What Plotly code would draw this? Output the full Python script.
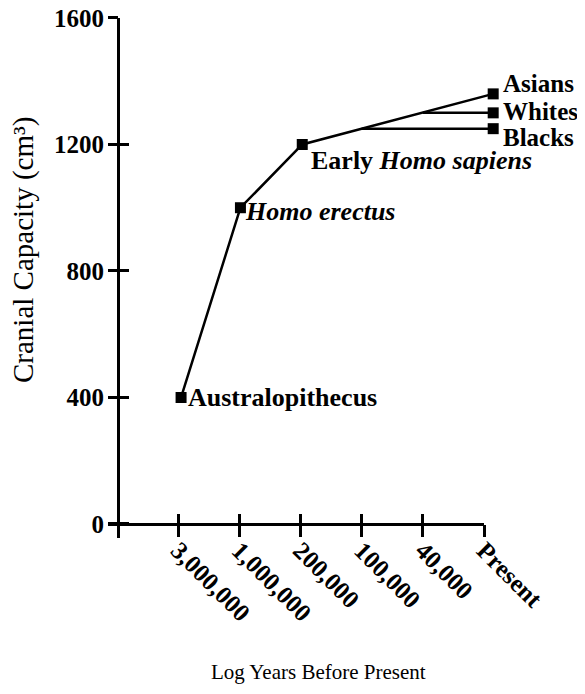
import plotly.graph_objects as go

# categorias do eixo x (anos antes do presente, escala log)
anos_labels = ["3,000,000", "1,000,000", "200,000", "100,000", "40,000", "Present"]
anos_idx = [0, 1, 2, 3, 4, 5]

# linha principal: fósseis até asiáticos
especies = ["Australopithecus", "<i>Homo erectus</i>", "Early <i>Homo sapiens</i>", "Asians"]
especies_x = [0.05, 1.02, 2.03, 5.15]
capacidade = [400, 1000, 1200, 1360]

# ramos horizontais (início no ramo, fim no presente)
brancos_x = [4, 5.15]
brancos_y = [1300, 1300]
negros_x = [3, 5.15]
negros_y = [1250, 1250]

y_ticks = [0, 400, 800, 1200, 1600]

# a página tem 8px de margem no body: a figura começa em (8, 8)
W, H = 577, 686
OFF = 8


def px(x):
    return (x - OFF) / W


def py(y):
    return (H - (y - OFF)) / H


fonte_tick = dict(family="Liberation Serif", size=25, color="black", weight="bold")
fonte_rot = dict(family="Liberation Serif", size=26, color="black", weight="bold")
fonte_pres = dict(family="Liberation Serif", size=25, color="black", weight="bold")

fig = go.Figure()

# eixo x3 invisível, mesma escala do eixo x mas mais largo (para os pontos do presente)
fig.add_trace(go.Scatter(
    x=especies_x, y=capacidade, mode="lines+markers", xaxis="x3", yaxis="y",
    line=dict(color="black", width=2.5),
    marker=dict(symbol="square", size=11, color="black"),
    cliponaxis=False, showlegend=False, hoverinfo="skip"
))
for xs, ys in [(brancos_x, brancos_y), (negros_x, negros_y)]:
    fig.add_trace(go.Scatter(
        x=xs, y=ys, mode="lines", xaxis="x3", yaxis="y",
        line=dict(color="black", width=2.5),
        cliponaxis=False, showlegend=False, hoverinfo="skip"
    ))
fig.add_trace(go.Scatter(
    x=[brancos_x[-1], negros_x[-1]], y=[brancos_y[-1], negros_y[-1]], mode="markers",
    xaxis="x3", yaxis="y", marker=dict(symbol="square", size=11, color="black"),
    cliponaxis=False, showlegend=False, hoverinfo="skip"
))

# traços vazios para os eixos visíveis (principal + ticks para dentro + ticks para fora)
for xa, ya in [("x", "y"), ("x2", "y2"), ("x4", "y4")]:
    fig.add_trace(go.Scatter(x=[None], y=[None], xaxis=xa, yaxis=ya,
                             showlegend=False, hoverinfo="skip"))

px_por_ano = 61.2
x_dom = [px(108), px(484)]
y_dom = [py(538), py(17.5)]
x_range = [-1.144, 5]
x3_range = [-1.144, -1.144 + (W - (108 - OFF)) / px_por_ano]
y_range = [-44.3, 1601.5]

eixo_x = dict(domain=x_dom, range=x_range, anchor="free", position=py(524),
              tickmode="array", tickvals=anos_idx, showgrid=False, zeroline=False,
              tickwidth=3, tickcolor="black", automargin=False, fixedrange=True,
              ticklabeloverflow="allow")
eixo_y = dict(domain=y_dom, range=y_range, anchor="free", position=px(118),
              tickmode="array", tickvals=y_ticks, showgrid=False, zeroline=False,
              tickwidth=3, tickcolor="black", automargin=False, fixedrange=True,
              ticklabeloverflow="allow")

fig.update_layout(
    width=W, height=H, autosize=False,
    margin=dict(l=0, r=0, t=0, b=0, pad=0),
    paper_bgcolor="white", plot_bgcolor="rgba(0,0,0,0)",
    showlegend=False,
    xaxis=dict(eixo_x, ticks="", showline=True, linewidth=3, linecolor="black",
               ticktext=anos_labels, tickangle=45, tickfont=fonte_tick),
    yaxis=dict(eixo_y, ticks="", showline=True, linewidth=3, linecolor="black",
               tickfont=fonte_tick, ticklabelstandoff=8),
    xaxis2=dict(eixo_x, overlaying="x", ticks="inside", ticklen=10,
                showticklabels=False, showline=False),
    yaxis2=dict(eixo_y, overlaying="y", ticks="inside", ticklen=10,
                showticklabels=False, showline=False),
    xaxis4=dict(eixo_x, overlaying="x", ticks="outside", ticklen=12,
                showticklabels=False, showline=False),
    yaxis4=dict(eixo_y, overlaying="y", ticks="outside", ticklen=10,
                showticklabels=False, showline=False),
    xaxis3=dict(domain=[px(108), 1], range=x3_range, anchor="y", visible=False,
                automargin=False, fixedrange=True),
)

# rótulos dos pontos
deslocamentos = [(5, 0), (3, -4), (7, -16)]
for nome, x, y, (dx, dy) in zip(especies[:3], especies_x, capacidade, deslocamentos):
    fig.add_annotation(x=x, y=y, xref="x3", yref="y", text=nome, showarrow=False,
                       xanchor="left", yanchor="middle", xshift=dx, yshift=dy, font=fonte_rot)

# rótulos do presente
fig.add_annotation(x=especies_x[-1], y=capacidade[-1], xref="x3", yref="y", text=especies[-1],
                   showarrow=False, xanchor="left", yanchor="middle", xshift=8, yshift=10,
                   font=fonte_pres)
fig.add_annotation(x=brancos_x[-1], y=brancos_y[-1], xref="x3", yref="y", text="Whites",
                   showarrow=False, xanchor="left", yanchor="middle", xshift=8, yshift=1,
                   font=fonte_pres)
fig.add_annotation(x=negros_x[-1], y=negros_y[-1], xref="x3", yref="y", text="Blacks",
                   showarrow=False, xanchor="left", yanchor="middle", xshift=8, yshift=-9,
                   font=fonte_pres)

# títulos dos eixos
fig.add_annotation(x=px(23), y=py(250), xref="paper", yref="paper",
                   xanchor="center", yanchor="middle",
                   text="Cranial Capacity (cm³)", textangle=-90, showarrow=False,
                   font=dict(family="Liberation Serif", size=29, color="black"))
fig.add_annotation(x=px(318), y=py(672), xref="paper", yref="paper",
                   xanchor="center", yanchor="middle",
                   text="Log Years Before Present", showarrow=False,
                   font=dict(family="Liberation Serif", size=21, color="black"))

fig.write_html("out.html")
